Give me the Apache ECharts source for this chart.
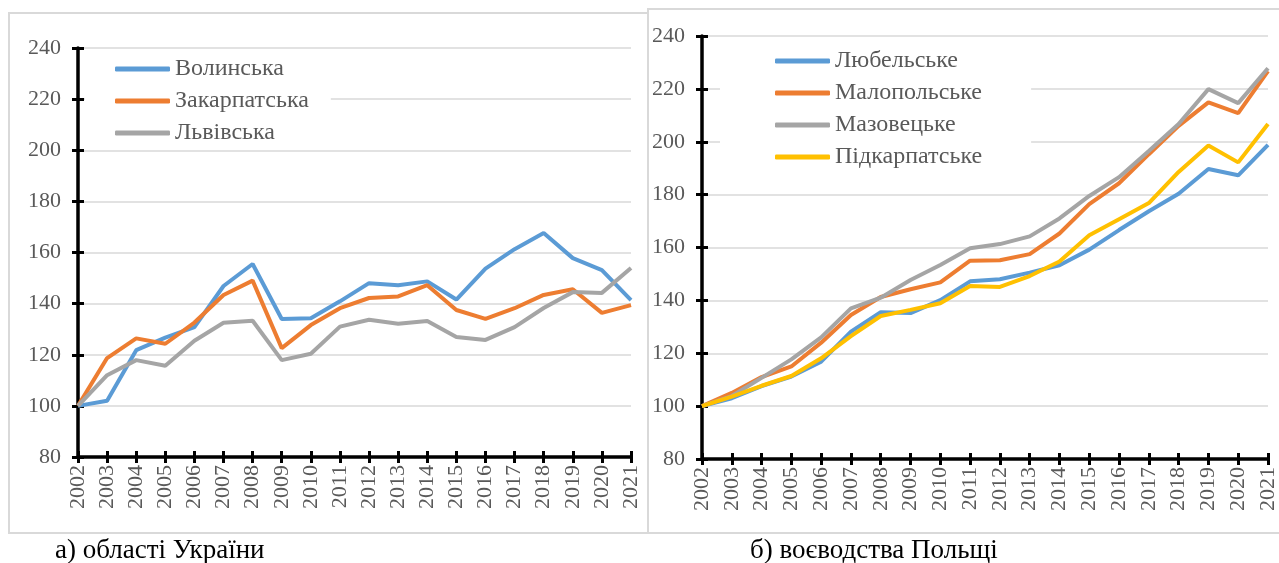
<!DOCTYPE html>
<html>
<head>
<meta charset="utf-8">
<script src="https://cdn.jsdelivr.net/npm/echarts@6/dist/echarts.min.js"></script>
<style>
  html, body { margin: 0; padding: 0; background: #fff; }
  #main { width: 1279px; height: 563px; }
</style>
</head>
<body>
<div id="main"></div>
<script>
var myChart = echarts.init(document.getElementById('main'));

// роки
const years = ['2002', '2003', '2004', '2005', '2006', '2007', '2008', '2009', '2010', '2011',
  '2012', '2013', '2014', '2015', '2016', '2017', '2018', '2019', '2020', '2021'];

// а) області України
const volynska = [100, 102, 121.8, 126.7, 130.8, 146.9, 155.5, 134, 134.3, 140.9,
  148, 147.2, 148.7, 141.6, 153.7, 161.3, 167.6, 157.8, 153.1, 141.4];
const zakarpatska = [100, 118.7, 126.4, 124.3, 132.6, 143.4, 149, 122.6, 131.6, 138.2,
  142.2, 142.8, 147.2, 137.5, 134, 138.2, 143.4, 145.6, 136.4, 139.4];
const lvivska = [100, 112, 117.9, 115.7, 125.5, 132.5, 133.3, 117.9, 120.4, 131,
  133.7, 132.1, 133.2, 126.9, 125.8, 130.8, 138.3, 144.5, 144.2, 153.9];

// б) воєводства Польщі
const lubelske = [100, 103, 107.6, 111.2, 116.8, 128.2, 135.5, 135.2, 140.1, 147.2,
  148, 150.5, 153.3, 159.2, 166.6, 173.7, 180.3, 189.7, 187.3, 198.8];
const malopolske = [100, 105, 111, 115, 124, 134.5, 141.3, 144.2, 146.8, 155,
  155.2, 157.5, 165.3, 176.4, 184.3, 195.3, 206, 214.9, 210.8, 226.7];
const mazowieckie = [100, 103.8, 110.7, 117.7, 126, 137, 141, 147.7, 153.4, 159.7,
  161.3, 164.2, 171, 179.5, 186.6, 196.5, 206.7, 219.9, 214.6, 227.8];
const podkarpackie = [100, 103.6, 107.7, 111.4, 118.1, 126.5, 134.1, 136.4, 138.9, 145.4,
  145.1, 149.2, 154.7, 164.6, 170.7, 176.8, 188.6, 198.6, 192.2, 206.7];

const leftNames = ['Волинська', 'Закарпатська', 'Львівська'];
const rightNames = ['Любельське', 'Малопольське', 'Мазовецьке', 'Підкарпатське'];

const FONT = 'Liberation Serif';
const blue = '#5B9BD5', orange = '#ED7D31', gray = '#A5A5A5', yellow = '#FFC000';

// inner=true -> друга вісь лише для рисок всередину (риски навхрест)
function xAx(grid, inner) {
  return {
    type: 'category',
    gridIndex: grid,
    position: 'bottom',
    data: years,
    boundaryGap: false,
    axisLine: { show: !inner, lineStyle: { color: '#000', width: 3.5 } },
    axisTick: { show: true, inside: inner, length: 6, interval: 0, lineStyle: { color: '#000', width: 3 } },
    axisLabel: {
      show: !inner, rotate: 90, interval: 0, margin: 8,
      fontFamily: FONT, fontSize: 22, color: '#595959'
    },
    splitLine: { show: false }
  };
}

function yAx(grid, inner) {
  return {
    type: 'value',
    gridIndex: grid,
    position: 'left',
    min: 80, max: 240, interval: 20,
    axisLine: { show: !inner, lineStyle: { color: '#000', width: 3.5 } },
    axisTick: { show: true, inside: inner, length: 6, lineStyle: { color: '#000', width: 3 } },
    axisLabel: { show: !inner, margin: 17, fontFamily: FONT, fontSize: 22, color: '#595959' },
    splitLine: { show: !inner, lineStyle: { color: '#D9D9D9', width: 1.5 } }
  };
}

function line(name, data, color, idx) {
  return {
    name: name,
    type: 'line',
    xAxisIndex: idx,
    yAxisIndex: idx,
    data: data,
    symbol: 'none',
    color: color,
    lineStyle: { width: 4, color: color }
  };
}

const legendText = { fontFamily: FONT, fontSize: 24, color: '#595959', lineHeight: 24 };

const option = {
  animation: false,
  backgroundColor: '#fff',
  grid: [
    { left: 78, top: 48, width: 553, height: 409 },
    { left: 702, top: 36, width: 569, height: 423 }
  ],
  xAxis: [xAx(0, false), xAx(1, false), xAx(0, true), xAx(1, true)],
  yAxis: [yAx(0, false), yAx(1, false), yAx(0, true), yAx(1, true)],
  legend: [
    {
      data: leftNames,
      orient: 'vertical',
      left: 85, top: 51,
      padding: [6, 22, 4, 30],
      backgroundColor: '#fff',
      icon: 'roundRect',
      itemWidth: 55, itemHeight: 5, itemGap: 8,
      textStyle: legendText
    },
    {
      data: rightNames,
      orient: 'vertical',
      left: 720, top: 41,
      padding: [8, 49, 10, 55],
      backgroundColor: '#fff',
      icon: 'roundRect',
      itemWidth: 55, itemHeight: 5, itemGap: 8,
      textStyle: legendText
    }
  ],
  graphic: [
    { type: 'rect', shape: { x: 9, y: 13, width: 639, height: 520 }, style: { fill: 'none', stroke: '#D9D9D9', lineWidth: 2 }, z: -1 },
    { type: 'rect', shape: { x: 648, y: 9, width: 632, height: 524 }, style: { fill: 'none', stroke: '#D9D9D9', lineWidth: 2 }, z: -1 },
    { type: 'text', left: 55, top: 537, style: { text: 'а) області України', font: '27px "Liberation Serif"', fill: '#000' } },
    { type: 'text', left: 750, top: 537, style: { text: 'б) воєводства Польщі', font: '27px "Liberation Serif"', fill: '#000' } }
  ],
  series: [
    line(leftNames[0], volynska, blue, 0),
    line(leftNames[1], zakarpatska, orange, 0),
    line(leftNames[2], lvivska, gray, 0),
    line(rightNames[0], lubelske, blue, 1),
    line(rightNames[1], malopolske, orange, 1),
    line(rightNames[2], mazowieckie, gray, 1),
    line(rightNames[3], podkarpackie, yellow, 1)
  ]
};

myChart.setOption(option);
</script>
</body>
</html>
